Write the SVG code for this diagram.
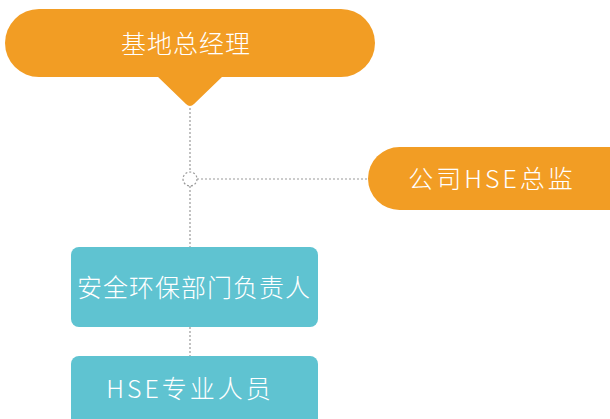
<svg xmlns="http://www.w3.org/2000/svg" width="610" height="419" viewBox="0 0 610 419">
<style>
.or{fill:#F29D24}
.tl{fill:#5FC3D1}
.t{fill:#fff;font-family:"Noto Sans CJK SC","Noto Sans",sans-serif;font-weight:300;text-anchor:middle;dominant-baseline:central}
.c{stroke:#999;stroke-width:1.2;stroke-dasharray:2,2;fill:none}
</style>
<rect width="610" height="419" fill="#fff"/>
<g id="connectors">
<line class="c" x1="190" y1="108" x2="190" y2="172"/>
<line class="c" x1="190" y1="186" x2="190" y2="247"/>
<circle class="c" cx="190" cy="179" r="7"/>
<line class="c" x1="197" y1="179" x2="370" y2="179"/>
<line class="c" x1="190" y1="327" x2="190" y2="356"/>
</g>
<g id="node-gm">
<rect class="or" x="5" y="9" width="370" height="68" rx="34"/>
<path class="or" d="M157 76 L223 76 L194 104 Q190 108 186 104 Z"/>
<text class="t" x="186" y="42" font-size="25" letter-spacing="1">基地总经理</text>
</g>
<g id="node-hse-director">
<rect class="or" x="368" y="147" width="280" height="63" rx="31.5"/>
<text class="t" x="492" y="177" font-size="25" letter-spacing="3">公司HSE总监</text>
</g>
<g id="node-dept">
<rect class="tl" x="71" y="247" width="247" height="80" rx="8"/>
<text class="t" x="194" y="286" font-size="25" letter-spacing="1">安全环保部门负责人</text>
</g>
<g id="node-staff">
<rect class="tl" x="71" y="356" width="247" height="80" rx="8"/>
<text class="t" x="190" y="387" font-size="25" letter-spacing="3">HSE专业人员</text>
</g>
</svg>
